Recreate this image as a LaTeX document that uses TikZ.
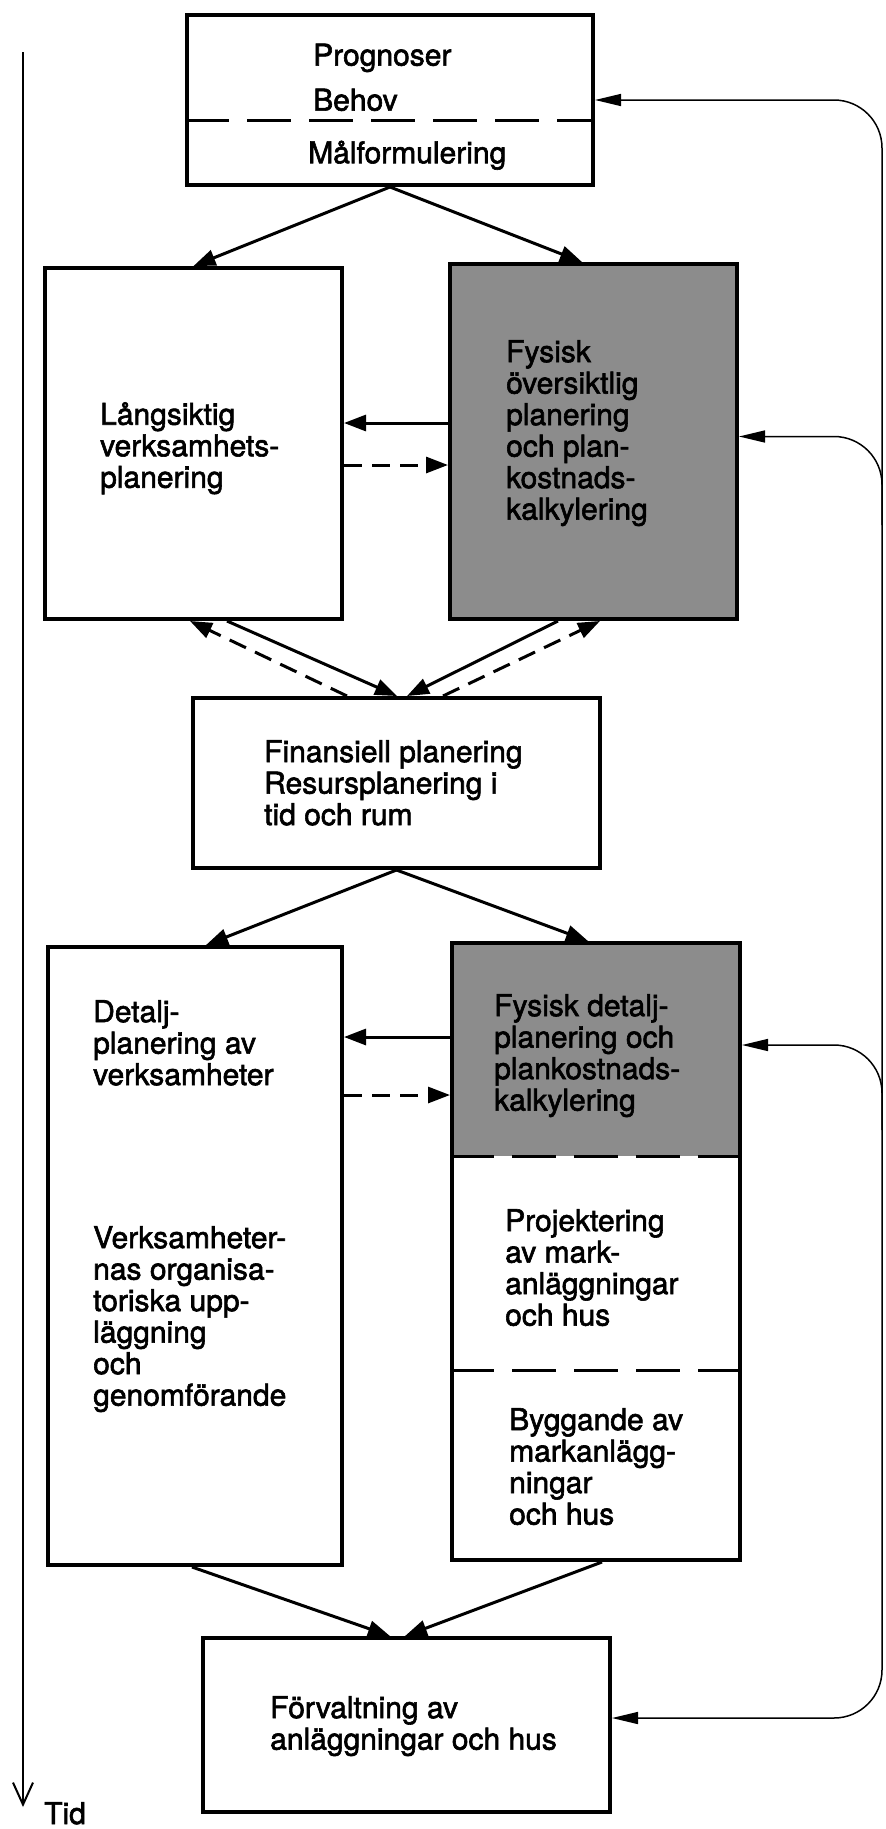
\documentclass[tikz,border=0pt]{standalone}
\usepackage{fontspec}
\setmainfont{TeX Gyre Heros}[FakeBold=2]
\usetikzlibrary{arrows.meta,backgrounds}

\begin{document}
\begin{tikzpicture}[x=1pt, y=-1pt, >={Triangle[length=22pt,width=16pt]},
    box/.style={draw, line width=4pt, inner sep=0pt},
    txt/.style={anchor=north west, align=left, inner sep=0pt,
        font=\fontsize{30}{31.5}\selectfont},
    flow/.style={->, line width=3pt},
    flowdash/.style={flow, dash pattern=on 18pt off 10pt},
    retur/.style={line width=1.5pt, rounded corners=48pt},
    returpil/.style={-{Triangle[length=26pt,width=12pt]}},
    skiljelinje/.style={line width=3pt, dash pattern=on 44pt off 18pt}]

    \useasboundingbox (0,0) rectangle (886,1829);

    % tidsaxel
    \coordinate (tidStart) at (23,52);
    \coordinate (tidSlut) at (23,1807);
    \draw[line width=2pt, -{Straight Barb[length=22pt,width=20pt]}] (tidStart) -- (tidSlut);
    \node[txt, anchor=base west] (tid) at (44,1824) {Tid};

    % boxar
    \node[box, minimum width=406pt, minimum height=170pt] (mal) at (390,100) {};
    \node[box, minimum width=297pt, minimum height=351pt] (lang) at (193.5,443.5) {};
    \node[box, fill=black!45, minimum width=287pt, minimum height=355pt] (fys1) at (593.5,441.5) {};
    \node[box, minimum width=407pt, minimum height=170pt] (fin) at (396.5,783) {};
    \node[box, minimum width=294pt, minimum height=618pt] (det) at (195,1256) {};
    \node[box, minimum width=288pt, minimum height=617pt] (fys2) at (596,1251.5) {};
    \node[box, minimum width=407pt, minimum height=174pt] (forv) at (406.5,1725) {};

    % grå del av fys2
    \begin{scope}[on background layer]
        \fill[black!45] (fys2.north west) rectangle ([yshift=-215pt]fys2.north east);
    \end{scope}

    % streckade skiljelinjer
    \draw[skiljelinje] ([yshift=-20pt]mal.west) -- ([yshift=-20pt]mal.east);
    \draw[skiljelinje] ([yshift=-215pt]fys2.north west) -- ([yshift=-215pt]fys2.north east);
    \draw[skiljelinje] ([yshift=-429pt]fys2.north west) -- ([yshift=-429pt]fys2.north east);

    % texter
    \node[txt] (progn) at (313,43.5) {Prognoser};
    \node[txt] (behov) at (313,88.5) {Behov};
    \node[txt] (malf) at (308,140.5) {Målformulering};
    \node[txt] (langtxt) at (100,402) {Långsiktig\\verksamhets-\\planering};
    \node[txt] (fys1txt) at (506,340) {Fysisk\\översiktlig\\planering\\och plan-\\kostnads-\\kalkylering};
    \node[txt] (fintxt) at (264,740) {Finansiell planering\\Resursplanering i\\tid och rum};
    \node[txt] (dettxt) at (93,1000) {Detalj-\\planering av\\verksamheter};
    \node[txt] (orgtxt) at (93,1226) {Verksamheter-\\nas organisa-\\toriska upp-\\läggning\\och\\genomförande};
    \node[txt] (fys2txt) at (494,994) {Fysisk detalj-\\planering och\\plankostnads-\\kalkylering};
    \node[txt] (projtxt) at (505,1209) {Projektering\\av mark-\\anläggningar\\och hus};
    \node[txt] (byggtxt) at (509,1408) {Byggande av\\markanlägg-\\ningar\\och hus};
    \node[txt] (forvtxt) at (270,1696) {Förvaltning av\\anläggningar och hus};

    % pilar fran mal
    \draw[flow] (mal.south) -- (lang.north);
    \draw[flow] (mal.south) -- ([xshift=-11.5pt]fys1.north);

    % mellan lang och fys1
    \draw[flow] ([yshift=18.5pt]fys1.west) -- ([yshift=20.5pt]lang.east);
    \draw[flowdash] ([yshift=-21.5pt]lang.east) -- ([yshift=-23.5pt]fys1.west);

    % till och fran fin
    \draw[flow] ([xshift=33.5pt]lang.south) -- ([xshift=0.5pt]fin.north);
    \draw[flowdash] ([xshift=-49.5pt]fin.north) -- ([xshift=-3.5pt]lang.south);
    \draw[flow] ([xshift=-35.5pt]fys1.south) -- ([xshift=10.5pt]fin.north);
    \draw[flowdash] ([xshift=46.5pt]fin.north) -- ([xshift=6.5pt]fys1.south);

    % fran fin
    \draw[flow] (fin.south) -- ([xshift=11pt]det.north);
    \draw[flow] (fin.south) -- ([xshift=-8pt]fys2.north);

    % mellan det och fys2
    \draw[flow] ([yshift=214.5pt]fys2.west) -- ([yshift=219pt]det.east);
    \draw[flowdash] ([yshift=161pt]det.east) -- ([yshift=156.5pt]fys2.west);

    % till forv
    \draw[flow] ([xshift=-3pt]det.south) -- ([xshift=-16.5pt]forv.north);
    \draw[flow] ([xshift=6pt]fys2.south) -- ([xshift=-1.5pt]forv.north);

    % aterkoppling
    \coordinate (ryggT) at (882,100);
    \coordinate (ryggB) at (882,1718);
    \coordinate (grenA) at (882,525);
    \coordinate (grenB) at (882,1130);
    \draw[retur, {Triangle[length=26pt,width=12pt]}-{Triangle[length=26pt,width=12pt]}]
        ([yshift=7pt]forv.east) -- (ryggB) -- (ryggT) -- (mal.east);
    \draw[retur, returpil] (grenA) |- ([yshift=5pt]fys1.east);
    \draw[retur, returpil] (grenB) |- ([yshift=-104pt]fys2.north east);
\end{tikzpicture}
\end{document}
